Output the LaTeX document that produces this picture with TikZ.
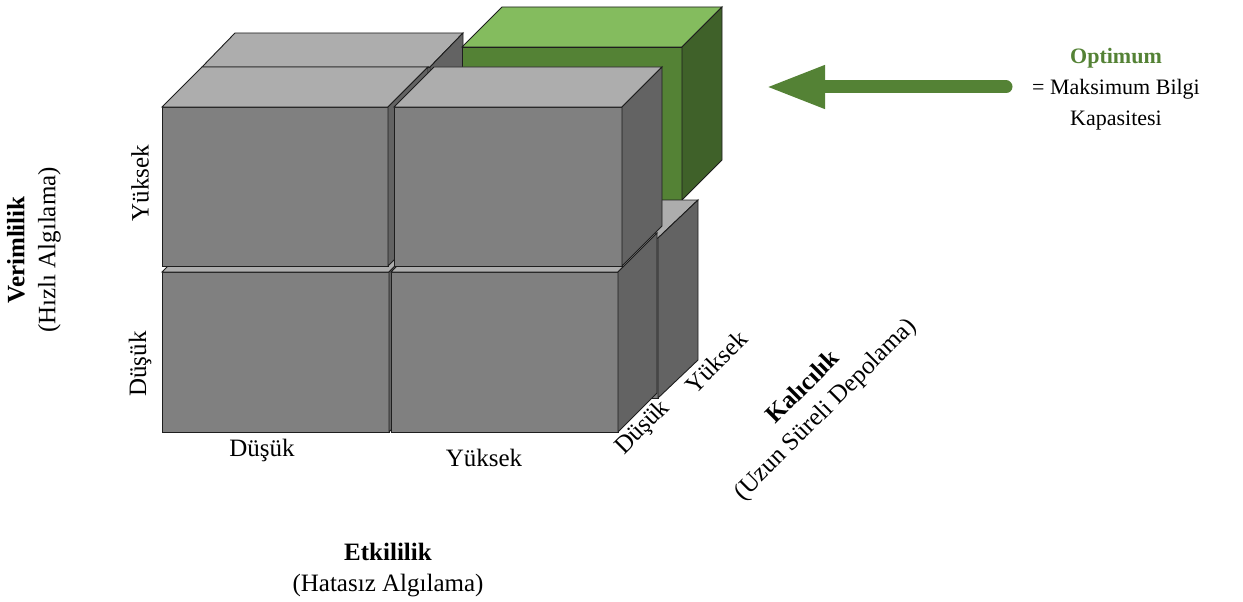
\documentclass[tikz,border=0pt]{standalone}
\usepackage{fontspec}
\setmainfont{Liberation Serif}
\usetikzlibrary{arrows.meta}
\definecolor{gfront}{HTML}{808080}
\definecolor{gtop}{HTML}{ADADAD}
\definecolor{gside}{HTML}{636363}
\definecolor{vfront}{HTML}{548235}
\definecolor{vtop}{HTML}{84BC5E}
\definecolor{vside}{HTML}{3F6129}
\definecolor{optgreen}{HTML}{548235}
\definecolor{edgecol}{HTML}{1E1E1E}
\tikzset{
  cubeline/.style={draw=edgecol, line width=0.9pt, line join=miter},
  lbl/.style={inner sep=0pt, font=\fontsize{25}{31}\selectfont},
  optlbl/.style={inner sep=0pt, align=center, font=\fontsize{22}{31}\selectfont},
  optarrow/.style={draw=optgreen, line width=13pt, line cap=round,
    -{Triangle[length=59pt,width=40pt]}},
}
% front rectangle x1,y1,x2,y2 ; depth dx, up ; fills front, top, side
\newcommand\boxcube[9]{%
  \filldraw[cubeline,fill=#7] (#1,#2) rectangle (#3,#4);
  \filldraw[cubeline,fill=#8] (#1,#2) -- ({#1+#5},{#2-#6}) -- ({#3+#5},{#2-#6}) -- (#3,#2) -- cycle;
  \filldraw[cubeline,fill=#9] (#3,#2) -- ({#3+#5},{#2-#6}) -- ({#3+#5},{#4-#6}) -- (#3,#4) -- cycle;}
\begin{document}
\begin{tikzpicture}[x=1pt,y=-1pt]
\useasboundingbox (0,0) rectangle (1243,602);
% back layer
\boxcube{202}{67}{430}{226}{33}{34}{gfront}{gtop}{gside}
\boxcube{462}{47}{682}{200}{40}{40}{vfront}{vtop}{vside}
\boxcube{432}{238}{658}{398}{40}{38}{gfront}{gtop}{gside}
% front layer, bottom row
\boxcube{162}{272}{389}{432}{40}{40}{gfront}{gtop}{gside}
\boxcube{391}{272}{618}{432}{39}{39}{gfront}{gtop}{gside}
% front layer, top row
\boxcube{162}{107}{388}{266}{40}{40}{gfront}{gtop}{gside}
\boxcube{394}{107}{622}{266}{40}{40}{gfront}{gtop}{gside}

% labels
\node[lbl, rotate=90, align=center] (verim) at (34,250) {\textbf{Verimlilik}\\(Hızlı Algılama)};
\node[lbl, rotate=90] (vyuk) at (140,183) {Yüksek};
\node[lbl, rotate=90] (vdus) at (140,364) {Düşük};
\node[lbl] (edus) at (262,450) {Düşük};
\node[lbl] (eyuk) at (484,458) {Yüksek};
\node[lbl, rotate=45] (kdus) at (643,428) {Düşük};
\node[lbl, rotate=45] (kyuk) at (716,362) {Yüksek};
\node[lbl, rotate=45, align=center] (kalic) at (815,399) {\textbf{Kalıcılık}\\(Uzun Süreli Depolama)};
\node[lbl, align=center] (etki) at (388,570) {\textbf{Etkililik}\\(Hatasız Algılama)};

% optimum
\node[optlbl] (opt) at (1116,89) {\textcolor{optgreen}{\textbf{Optimum}}\\= Maksimum Bilgi\\Kapasitesi};
\coordinate (arrowtail) at (1006,87);
\coordinate (arrowtip) at (766,87);
\draw[optarrow] (arrowtail) -- (arrowtip);
\end{tikzpicture}
\end{document}
